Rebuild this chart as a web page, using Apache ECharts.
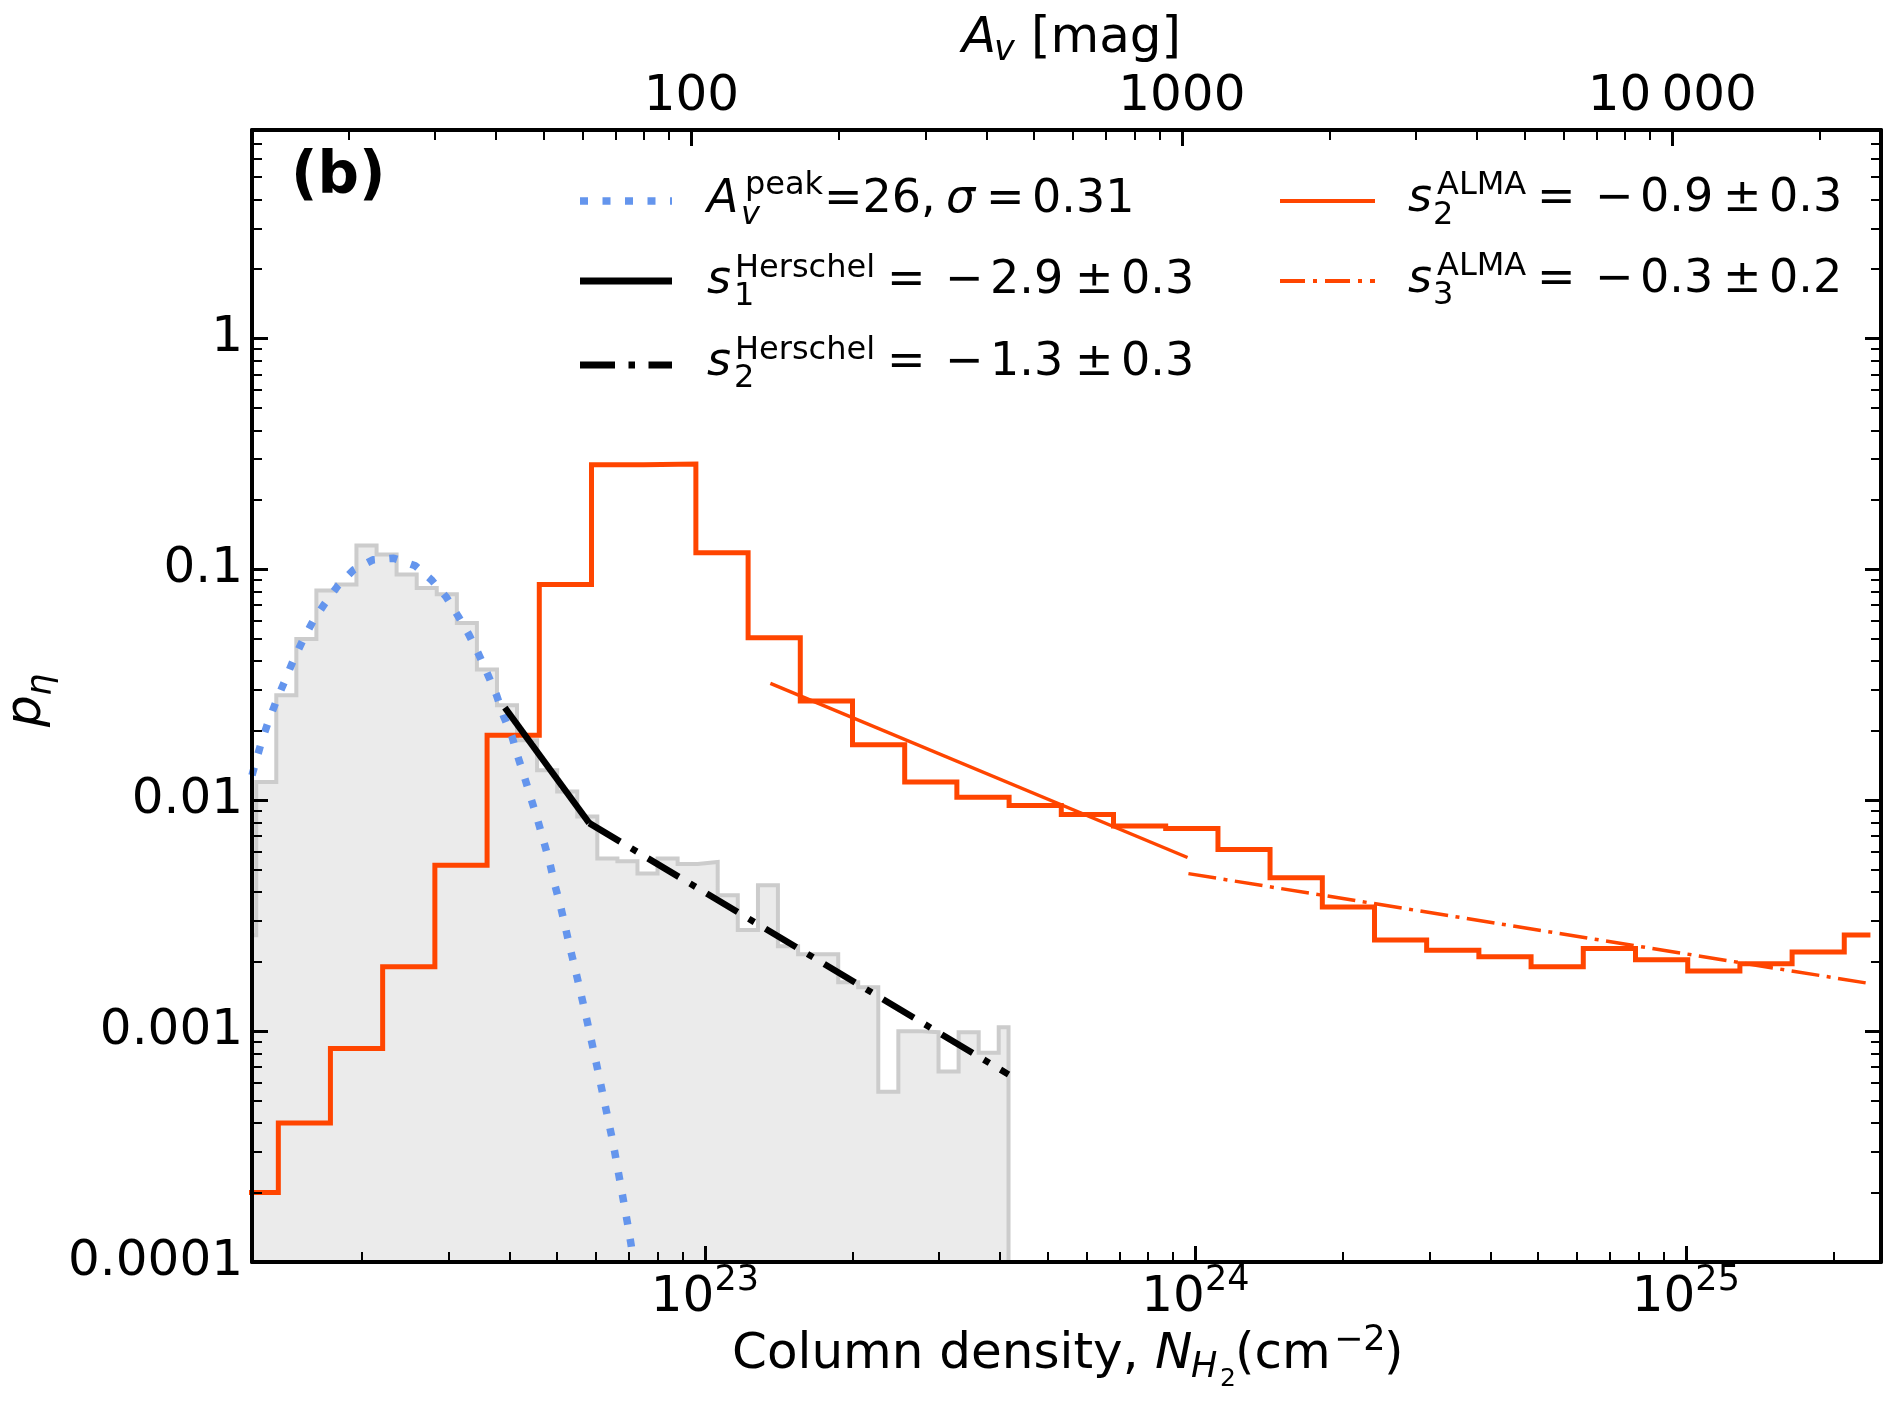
<!DOCTYPE html>
<html>
<head>
<meta charset="utf-8">
<script src="https://cdn.jsdelivr.net/npm/echarts@6/dist/echarts.min.js"></script>
<style>
html, body { margin: 0; padding: 0; background: #fff; }
#main { width: 1895px; height: 1406px; }
</style>
</head>
<body>
<div id="main"></div>
<script>
// Herschel column density PDF (grey), left bin edges in cm^-2
var grayEdges = [1.107e22, 1.217e22, 1.337e22, 1.469e22, 1.614e22, 1.773e22, 1.948e22, 2.141e22, 2.352e22, 2.585e22,
  2.840e22, 3.121e22, 3.429e22, 3.768e22, 4.140e22, 4.549e22, 4.999e22, 5.493e22, 6.035e22, 6.632e22,
  7.287e22, 8.007e22, 8.798e22, 9.668e22, 1.062e23, 1.167e23, 1.283e23, 1.409e23, 1.549e23, 1.702e23,
  1.870e23, 2.054e23, 2.257e23, 2.480e23, 2.725e23, 2.995e23, 3.291e23, 3.616e23, 3.973e23];
var grayVals = [0.0026, 0.0120, 0.0285, 0.050, 0.081, 0.086, 0.127, 0.116, 0.095, 0.083,
  0.078, 0.0586, 0.0368, 0.0258, 0.0182, 0.0135, 0.0109, 0.0085, 0.0056, 0.00544,
  0.00482, 0.0056, 0.0053, 0.0054, 0.00388, 0.00274, 0.00428, 0.00233, 0.00215, 0.00215,
  0.00163, 0.00155, 0.000546, 0.00100, 0.00099, 0.000668, 0.00099, 0.000805, 0.00104];
var grayEnd = 4.16e23;

// ALMA PDF (red)
var almaEdges = [1.056e22, 1.350e22, 1.724e22, 2.203e22, 2.815e22, 3.597e22, 4.596e22, 5.872e22, 7.503e22, 9.586e22,
  1.225e23, 1.565e23, 2.000e23, 2.555e23, 3.264e23, 4.171e23, 5.329e23, 6.809e23, 8.700e23, 1.112e24,
  1.420e24, 1.815e24, 2.319e24, 2.962e24, 3.785e24, 4.836e24, 6.179e24, 7.895e24, 1.009e25, 1.289e25,
  1.647e25, 2.104e25];
var almaVals = [2.0e-4, 4.0e-4, 8.4e-4, 0.0019, 0.00523, 0.0191, 0.086, 0.284, 0.286, 0.118,
  0.0506, 0.0269, 0.0174, 0.0120, 0.0103, 0.0095, 0.00867, 0.00774, 0.00754, 0.00612,
  0.00462, 0.00345, 0.00248, 0.00224, 0.00210, 0.00190, 0.00228, 0.00204, 0.00182, 0.00196,
  0.00220, 0.00261];
var almaEnd = 2.379e25;

// lognormal fit
var fitN = [1.193e22, 1.207e22, 1.245e22, 1.285e22, 1.336e22, 1.390e22, 1.445e22, 1.510e22, 1.587e22, 1.677e22,
  1.785e22, 1.922e22, 2.104e22, 2.322e22, 2.569e22, 2.769e22, 2.971e22, 3.137e22, 3.304e22, 3.463e22,
  3.612e22, 3.758e22, 3.889e22, 4.043e22, 4.159e22, 4.293e22, 4.429e22, 4.569e22, 4.699e22, 4.828e22,
  4.942e22, 5.076e22, 5.196e22, 5.320e22, 5.454e22, 5.703e22, 5.969e22, 6.227e22, 6.500e22, 6.746e22,
  7.000e22, 7.163e22];
var fitP = [0.01283, 0.0140, 0.01769, 0.02159, 0.02678, 0.03268, 0.0399, 0.04868, 0.05943, 0.07088,
  0.08484, 0.09949, 0.1100, 0.1118, 0.1036, 0.0901, 0.0758, 0.0629, 0.0521, 0.0426,
  0.0349, 0.02862, 0.02306, 0.01889, 0.01538, 0.01248, 0.01005, 0.00810, 0.00657, 0.00535,
  0.00431, 0.00349, 0.00281, 0.002253, 0.001815, 0.001203, 0.000774, 0.000505, 0.000327, 0.000211,
  0.0001362, 0.0001];

// power-law fits: [N, p] end points
var s1Herschel = [[3.91e22, 0.0252], [5.81e22, 0.00796]];
var s2Herschel = [[5.81e22, 0.00796], [4.16e23, 0.000649]];
var s2Alma = [[1.36e23, 0.0321], [9.64e23, 0.00565]];
var s3Alma = [[9.68e23, 0.00481], [2.36e25, 0.00161]];

var xMin = 1.193e22, xMax = 2.5e25;
var avPerN = 9.385e20;
var yMin = 1e-4, yMax = 8;

var xMajor = [1e23, 1e24, 1e25];
var xExp = ['23', '24', '25'];
var xMinor = [2e22, 3e22, 4e22, 5e22, 6e22, 7e22, 8e22, 9e22, 2e23, 3e23, 4e23, 5e23, 6e23, 7e23, 8e23, 9e23,
  2e24, 3e24, 4e24, 5e24, 6e24, 7e24, 8e24, 9e24, 2e25];
var avMajor = [100, 1000, 10000];
var avLabels = ['100', '1000', '10\u2009000'];
var avMinor = [20, 30, 40, 50, 60, 70, 80, 90, 200, 300, 400, 500, 600, 700, 800, 900,
  2000, 3000, 4000, 5000, 6000, 7000, 8000, 9000, 20000];
var yMajor = [1e-4, 1e-3, 1e-2, 1e-1, 1];
var yLabels = ['0.0001', '0.001', '0.01', '0.1', '1'];
var yMinor = [2e-4, 3e-4, 4e-4, 5e-4, 6e-4, 7e-4, 8e-4, 9e-4, 2e-3, 3e-3, 4e-3, 5e-3, 6e-3, 7e-3, 8e-3, 9e-3,
  0.02, 0.03, 0.04, 0.05, 0.06, 0.07, 0.08, 0.09, 0.2, 0.3, 0.4, 0.5, 0.6, 0.7, 0.8, 0.9, 2, 3, 4, 5, 6, 7];

var FONT = 'DejaVu Sans';
var RED = '#ff4500';

function steps(edges, vals, end) {
  var d = [];
  for (var i = 0; i < edges.length; i++) d.push([edges[i], vals[i]]);
  d.push([end, vals[vals.length - 1]]);
  return d;
}

function pick(list, labels, v) {
  for (var i = 0; i < list.length; i++) {
    if (Math.abs(Math.log10(v) - Math.log10(list[i])) < 1e-6) return labels[i];
  }
  return '';
}

function tickAxis(pos, min, max, vals, len, width, line) {
  return {
    type: 'log', logBase: 10, position: pos, min: min, max: max, z: 10,
    axisLine: { show: line, onZero: false, lineStyle: { color: '#000', width: 4 } },
    axisTick: { show: true, inside: true, length: len, customValues: vals, lineStyle: { color: '#000', width: width } },
    axisLabel: { show: false },
    splitLine: { show: false },
    minorTick: { show: false }
  };
}

function tx(x, base, s, size, style) {
  return {
    type: 'text', x: x, y: base - 0.346 * size, z: 100,
    style: {
      text: s, font: ((style || '') + ' ' + size + 'px "' + FONT + '"').trim(),
      fill: '#000', textAlign: 'left', textVerticalAlign: 'middle'
    }
  };
}

function handle(x1, x2, y, color, width, dash) {
  return {
    type: 'line', z: 100,
    shape: { x1: x1, y1: y, x2: x2, y2: y },
    style: { stroke: color, lineWidth: width, lineDash: dash || null, lineCap: 'butt' }
  };
}

var grayData = steps(grayEdges, grayVals, grayEnd);
grayData.push([grayEnd, yMin]);
var almaData = steps(almaEdges, almaVals, almaEnd);
var fitData = [];
for (var i = 0; i < fitN.length; i++) fitData.push([fitN[i], fitP[i]]);

var xBottom = tickAxis('bottom', xMin, xMax, xMajor, 16, 3, true);
xBottom.axisLabel = {
  show: true, margin: 1, customValues: xMajor,
  formatter: function (v) { return '{b|10}{s|' + pick(xMajor, xExp, v) + '}'; },
  rich: {
    b: { fontFamily: FONT, fontSize: 50, lineHeight: 60, verticalAlign: 'bottom', color: '#000' },
    s: { fontFamily: FONT, fontSize: 35, lineHeight: 35, verticalAlign: 'top', color: '#000' }
  }
};
var xTop = tickAxis('top', xMin / avPerN, xMax / avPerN, avMajor, 16, 3, true);
xTop.axisLabel = {
  show: true, margin: 8, customValues: avMajor, fontFamily: FONT, fontSize: 50, lineHeight: 50, color: '#000',
  formatter: function (v) { return pick(avMajor, avLabels, v); }
};
var yLeft = tickAxis('left', yMin, yMax, yMajor, 16, 3, true);
yLeft.axisLabel = {
  show: true, margin: 9, customValues: yMajor, fontFamily: FONT, fontSize: 50, color: '#000',
  formatter: function (v) { return pick(yMajor, yLabels, v); }
};

var dom = document.getElementById('main');
var myChart = echarts.init(dom);
var option = {
  animation: false,
  backgroundColor: '#fff',
  grid: { left: 252, right: 14, top: 130, bottom: 144, containLabel: false },
  xAxis: [
    xBottom,
    tickAxis('bottom', xMin, xMax, xMinor, 10, 2, false),
    xTop,
    tickAxis('top', xMin / avPerN, xMax / avPerN, avMinor, 10, 2, false)
  ],
  yAxis: [
    yLeft,
    tickAxis('left', yMin, yMax, yMinor, 10, 2, false),
    tickAxis('right', yMin, yMax, yMajor, 16, 3, true),
    tickAxis('right', yMin, yMax, yMinor, 10, 2, false)
  ],
  series: [
    {
      name: 'Herschel', type: 'line', step: 'end', data: grayData, symbol: 'none', z: 1,
      lineStyle: { color: '#cccccc', width: 4, join: 'miter' },
      areaStyle: { color: '#ebebeb', opacity: 1, origin: 'start' }
    },
    {
      name: 'ALMA', type: 'line', step: 'end', data: almaData, symbol: 'none', z: 2,
      lineStyle: { color: RED, width: 5, join: 'miter' }
    },
    {
      name: 'lognormal', type: 'line', data: fitData, symbol: 'none', z: 3,
      lineStyle: { color: '#6495ed', width: 7.5, type: [8, 14.5], cap: 'butt' }
    },
    {
      name: 's1 Herschel', type: 'line', data: s1Herschel, symbol: 'none', z: 4,
      lineStyle: { color: '#000', width: 6.5 }
    },
    {
      name: 's2 Herschel', type: 'line', data: s2Herschel, symbol: 'none', z: 4,
      lineStyle: { color: '#000', width: 6.5, type: [36, 13, 6.5, 13], cap: 'butt' }
    },
    {
      name: 's2 ALMA', type: 'line', data: s2Alma, symbol: 'none', z: 5,
      lineStyle: { color: RED, width: 3.5 }
    },
    {
      name: 's3 ALMA', type: 'line', data: s3Alma, symbol: 'none', z: 5,
      lineStyle: { color: RED, width: 3.5, type: [28, 7.5, 4, 7.5], cap: 'butt' }
    }
  ],
  graphic: [
    // panel tag
    tx(291, 198, '(b)', 58, 'bold'),
    // legend, left column
    handle(580, 672, 201, '#6495ed', 7.5, [8, 14.5]),
    tx(707, 216, 'A', 46, 'italic'),
    tx(745, 197, 'peak', 32),
    tx(741, 227, 'v', 32, 'italic'),
    tx(824, 216, '=26,', 46),
    tx(946, 216, 'σ', 46, 'italic'),
    tx(986, 216, '=', 46),
    tx(1032, 216, '0.31', 46),

    handle(580, 672, 281, '#000', 7),
    tx(707, 297, 's', 46, 'italic'),
    tx(735, 280, 'Herschel', 32),
    tx(734, 308, '1', 32),
    tx(887, 297, '=', 46),
    tx(945, 297, '\u2212', 46),
    tx(990, 297, '2.9', 46),
    tx(1075, 297, '±', 46),
    tx(1121, 297, '0.3', 46),

    handle(580, 672, 365, '#000', 7, [35, 13.5, 6.5, 13.5]),
    tx(707, 379, 's', 46, 'italic'),
    tx(735, 362, 'Herschel', 32),
    tx(734, 390, '2', 32),
    tx(887, 379, '=', 46),
    tx(945, 379, '\u2212', 46),
    tx(990, 379, '1.3', 46),
    tx(1075, 379, '±', 46),
    tx(1121, 379, '0.3', 46),

    // legend, right column
    handle(1280, 1375, 201, RED, 4),
    tx(1408, 215, 's', 46, 'italic'),
    tx(1437, 197, 'ALMA', 32),
    tx(1433, 227, '2', 32),
    tx(1537, 215, '=', 46),
    tx(1595, 215, '\u2212', 46),
    tx(1640, 215, '0.9', 46),
    tx(1723, 215, '±', 46),
    tx(1769, 215, '0.3', 46),

    handle(1280, 1375, 281, RED, 4, [25, 8, 4, 8]),
    tx(1408, 296, 's', 46, 'italic'),
    tx(1437, 278, 'ALMA', 32),
    tx(1433, 307, '3', 32),
    tx(1537, 296, '=', 46),
    tx(1595, 296, '\u2212', 46),
    tx(1640, 296, '0.3', 46),
    tx(1723, 296, '±', 46),
    tx(1769, 296, '0.2', 46),

    // x axis title
    tx(732, 1372, 'Column density,', 50),
    tx(1155, 1372, 'N', 50, 'italic'),
    tx(1191, 1380, 'H', 35, 'italic'),
    tx(1220, 1388, '2', 25),
    tx(1235, 1372, '(cm', 50),
    tx(1334, 1353, '\u22122', 35),
    tx(1384, 1372, ')', 50),

    // top axis title
    tx(962, 56, 'A', 50, 'italic'),
    tx(994, 63, 'v', 35, 'italic'),
    tx(1031, 56, '[mag]', 50),

    // y axis title
    {
      type: 'group', x: 44, y: 727, rotation: Math.PI / 2, z: 100,
      children: [
        tx(0, 0, 'p', 50, 'italic'),
        tx(31, 10, 'η', 35, 'italic')
      ]
    }
  ]
};

if (option && typeof option === 'object') {
  myChart.setOption(option, true);
}
</script>
</body>
</html>
